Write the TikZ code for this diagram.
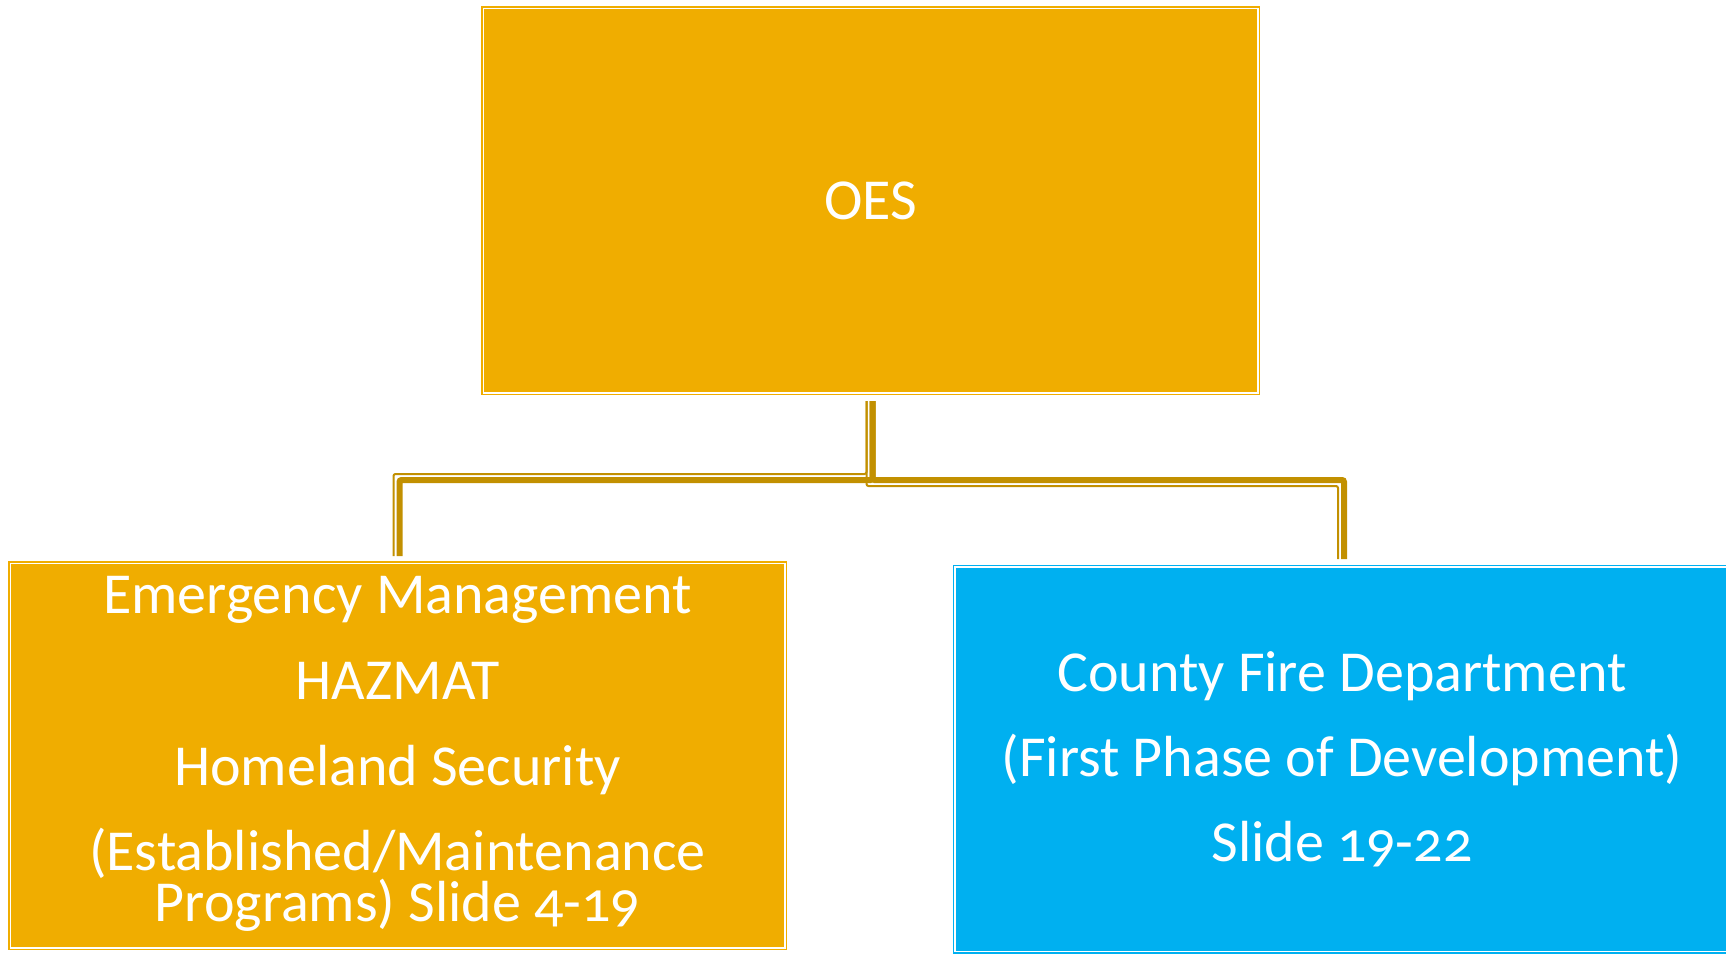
\documentclass[tikz,border=0pt]{standalone}
\usepackage{fontspec}
\setmainfont{Carlito}[Numbers=OldStyle]
\definecolor{boxgold}{HTML}{F0AD00}
\definecolor{conngold}{HTML}{C29000}
\definecolor{boxblue}{HTML}{00B0F0}
\begin{document}
\begin{tikzpicture}[x=1pt,y=1pt,
  box/.style={rectangle, inner sep=0pt, outer sep=0pt,
    minimum width=774.5pt, minimum height=384.5pt,
    line width=1.5pt, double=white, double distance=1.5pt},
  goldbox/.style={box, fill=boxgold, draw=boxgold},
  bluebox/.style={box, fill=boxblue, draw=boxblue},
  txt/.style={text=white, inner sep=0pt, anchor=base,
    font=\fontsize{58}{70}\selectfont},
  thk/.style={draw=conngold, line width=6pt, rounded corners=2pt},
  thn/.style={draw=conngold, line width=2pt, rounded corners=2pt}]
\useasboundingbox (0,0) rectangle (1726,-953);
% boxes
\node[goldbox, text=white, font=\fontsize{58}{70}\selectfont] (oes) at (870.5,-200.5) {OES};
\node[goldbox] (em) at (397.5,-755.5) {};
\node[bluebox] (cfd) at (1342,-759) {};
% texts
\node[txt] (em1) at (397.5,-613) {Emergency Management};
\node[txt] (em2) at (397.5,-699) {HAZMAT};
\node[txt] (em3) at (397.5,-785) {Homeland Security};
\node[txt] (em4) at (397.5,-870) {(Established/Maintenance};
\node[txt] (em5) at (397.5,-921) {Programs) Slide 4-19};
\node[txt] (fire) at (1342,-691) {County Fire Department};
\node[txt] (fire2) at (1342,-776) {(First Phase of Development)};
\node[txt] (fire3) at (1342,-861) {Slide 19-22};
% connector points
\path (oes.south) ++(0,-8.25) coordinate (ob);
\path (em.north) ++(0,7.25) coordinate (lt);
\path (cfd.north) ++(0,7.75) coordinate (rt);
\path (ob) ++(0,-79) coordinate (bus);
% connectors
\draw[thn] ([xshift=-4pt]lt) |- ([shift={(-4pt,6pt)}]bus) -- ([xshift=-4pt]ob);
\draw[thn] ([xshift=-4pt]rt) |- ([shift={(-4pt,-6pt)}]bus) -- ([xshift=-4pt]ob);
\draw[thk] ([xshift=2pt]lt) |- ([xshift=2pt]bus) -- ([xshift=2pt]ob);
\draw[thk] ([xshift=2pt]rt) |- ([xshift=2pt]bus) -- ([xshift=2pt]ob);
\end{tikzpicture}
\end{document}
